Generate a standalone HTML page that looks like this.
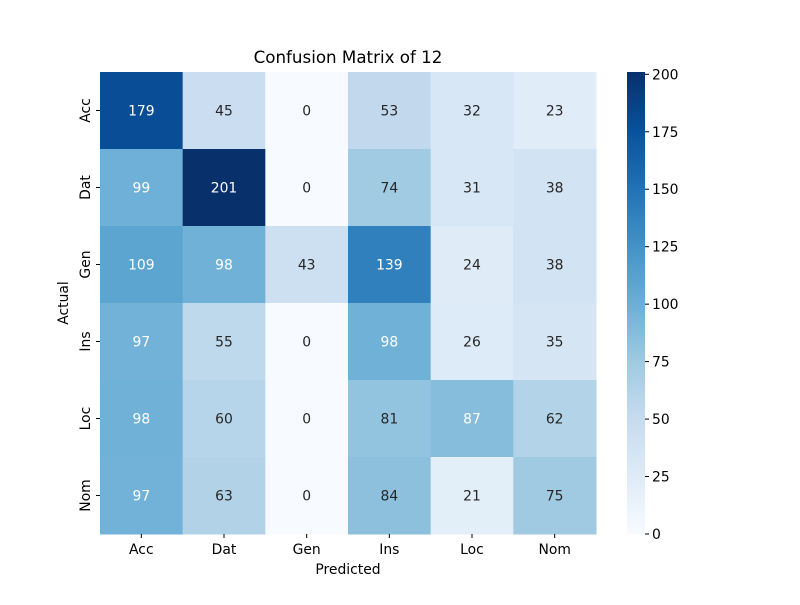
<!DOCTYPE html>
<html><head><meta charset="utf-8"><style>
body{margin:0;background:#fff;}
svg text{font-family:"DejaVu Sans","Liberation Sans",sans-serif;}
</style></head><body>
<svg id="chart" width="800" height="600" xmlns="http://www.w3.org/2000/svg">
<text x="348" y="63" font-size="16.7" text-anchor="middle">Confusion Matrix of 12</text>
<g id="cells"></g>
<g id="axes"></g>
<g id="cbar"></g>
</svg>
<script>
const labels = ["Acc","Dat","Gen","Ins","Loc","Nom"];
const row0 = [179,45,0,53,32,23];
const row1 = [99,201,0,74,31,38];
const row2 = [109,98,43,139,24,38];
const row3 = [97,55,0,98,26,35];
const row4 = [98,60,0,81,87,62];
const row5 = [97,63,0,84,21,75];
const matrix = [row0,row1,row2,row3,row4,row5];
const cbarTicks = [0,25,50,75,100,125,150,175,200];

const NS="http://www.w3.org/2000/svg";
const X0=100,X1=596,Y0=72,Y1=534;
const FS=13.9;
const stops=["#f7fbff","#deebf7","#c6dbef","#9ecae1","#6baed6","#4292c6","#2171b5","#08519c","#08306b"];
const all=matrix.flat();const vmin=Math.min(...all),vmax=Math.max(...all);
function hex(h){return [1,3,5].map(i=>parseInt(h.substr(i,2),16));}
function cmap(t){t=Math.max(0,Math.min(1,t));const p=t*(stops.length-1);const i=Math.min(Math.floor(p),stops.length-2);const f=p-i;const a=hex(stops[i]),b=hex(stops[i+1]);const c=a.map((v,k)=>Math.round(v+(b[k]-v)*f));return `rgb(${c[0]},${c[1]},${c[2]})`;}
const nc=labels.length,nr=matrix.length;
const cw=(X1-X0)/nc,rh=(Y1-Y0)/nr;
const xs=j=>X0+j*cw, ys=i=>Y0+i*rh;
function mk(tag,attrs,parent,txt){const e=document.createElementNS(NS,tag);for(const k in attrs)e.setAttribute(k,attrs[k]);if(txt!==undefined)e.textContent=txt;parent.appendChild(e);return e;}
const cells=document.getElementById('cells');
matrix.forEach((row,i)=>row.forEach((v,j)=>{
  const t=(v-vmin)/(vmax-vmin);
  const r=mk('rect',{x:xs(j),y:ys(i),width:cw+0.5,height:rh+0.5,fill:cmap(t)},cells);
  
  
  const tx=mk('text',{x:xs(j)+cw/2,y:ys(i)+rh/2+5,'font-size':FS,'text-anchor':'middle',fill:t>0.42?'#fff':'#262626'},cells,v);
  
  
}));
const ax=document.getElementById('axes');
labels.forEach((l,j)=>{
  mk('line',{x1:xs(j)+cw/2,x2:xs(j)+cw/2,y1:Y1,y2:Y1+4,stroke:'#000'},ax);
  const t=mk('text',{x:xs(j)+cw/2,y:Y1+20,'font-size':FS,'text-anchor':'middle'},ax,l);
  
  
});
labels.slice(0,nr).forEach((l,i)=>{
  const cy=ys(i)+rh/2;
  mk('line',{x1:X0-4,x2:X0,y1:cy,y2:cy,stroke:'#000'},ax);
  const t=mk('text',{x:0,y:0,'font-size':FS,'text-anchor':'middle',transform:`translate(${X0-10},${cy}) rotate(-90)`},ax,l);
  
  
});
const xt=mk('text',{x:(X0+X1)/2,y:574,'font-size':FS,'text-anchor':'middle'},ax,'Predicted');


const yt=mk('text',{x:0,y:0,'font-size':FS,'text-anchor':'middle',transform:`translate(68,${(Y0+Y1)/2}) rotate(-90)`},ax,'Actual');


const cb=document.getElementById('cbar');
const CX0=627,CX1=645;
const defs=mk('defs',{},cb);
const g=mk('linearGradient',{id:'grad',x1:0,y1:1,x2:0,y2:0},defs);
stops.forEach((s,k)=>mk('stop',{offset:k/(stops.length-1),'stop-color':s},g));
const cr=mk('rect',{x:CX0,y:Y0,width:CX1-CX0,height:Y1-Y0,fill:'url(#grad)'},cb);


const cy=v=>Y1-(v-vmin)/(vmax-vmin)*(Y1-Y0);
cbarTicks.forEach(v=>{
  mk('line',{x1:CX1,x2:CX1+4,y1:cy(v),y2:cy(v),stroke:'#000'},cb);
  const t=mk('text',{x:CX1+7,y:cy(v)+5,'font-size':FS},cb,v);
  
  
});
</script>
</body></html>
